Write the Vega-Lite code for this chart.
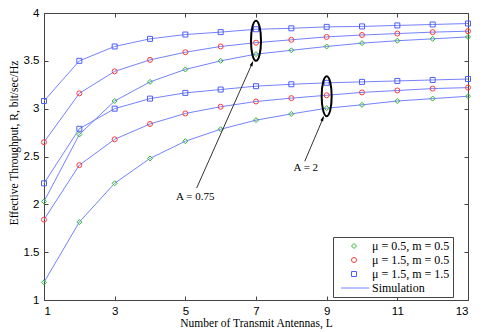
{
  "$schema": "https://vega.github.io/schema/vega-lite/v6.json",
  "autosize": "none",
  "width": 424,
  "height": 287,
  "padding": {"left": 44, "top": 13, "right": 17, "bottom": 32},
  "background": "white",
  "config": {
    "view": {"stroke": "#444", "strokeWidth": 1},
    "axis": {
      "grid": false,
      "domain": false,
      "tickColor": "#444",
      "tickSize": -4,
      "labelFont": "Liberation Sans",
      "labelFontSize": 11.5,
      "labelColor": "#000",
      "labelPadding": 9,
      "titleFont": "Liberation Serif",
      "titleFontSize": 11.5,
      "titleFontWeight": "normal",
      "titleColor": "#000"
    }
  },
  "datasets": {
    "curves": [
      {"L": 1, "R": 3.08, "s": "μ = 1.5, m = 1.5", "A": "0.75"},
      {"L": 2, "R": 3.50, "s": "μ = 1.5, m = 1.5", "A": "0.75"},
      {"L": 3, "R": 3.65, "s": "μ = 1.5, m = 1.5", "A": "0.75"},
      {"L": 4, "R": 3.73, "s": "μ = 1.5, m = 1.5", "A": "0.75"},
      {"L": 5, "R": 3.775, "s": "μ = 1.5, m = 1.5", "A": "0.75"},
      {"L": 6, "R": 3.80, "s": "μ = 1.5, m = 1.5", "A": "0.75"},
      {"L": 7, "R": 3.83, "s": "μ = 1.5, m = 1.5", "A": "0.75"},
      {"L": 8, "R": 3.84, "s": "μ = 1.5, m = 1.5", "A": "0.75"},
      {"L": 9, "R": 3.855, "s": "μ = 1.5, m = 1.5", "A": "0.75"},
      {"L": 10, "R": 3.86, "s": "μ = 1.5, m = 1.5", "A": "0.75"},
      {"L": 11, "R": 3.87, "s": "μ = 1.5, m = 1.5", "A": "0.75"},
      {"L": 12, "R": 3.88, "s": "μ = 1.5, m = 1.5", "A": "0.75"},
      {"L": 13, "R": 3.89, "s": "μ = 1.5, m = 1.5", "A": "0.75"},
      {"L": 1, "R": 2.65, "s": "μ = 1.5, m = 0.5", "A": "0.75"},
      {"L": 2, "R": 3.16, "s": "μ = 1.5, m = 0.5", "A": "0.75"},
      {"L": 3, "R": 3.39, "s": "μ = 1.5, m = 0.5", "A": "0.75"},
      {"L": 4, "R": 3.51, "s": "μ = 1.5, m = 0.5", "A": "0.75"},
      {"L": 5, "R": 3.59, "s": "μ = 1.5, m = 0.5", "A": "0.75"},
      {"L": 6, "R": 3.65, "s": "μ = 1.5, m = 0.5", "A": "0.75"},
      {"L": 7, "R": 3.69, "s": "μ = 1.5, m = 0.5", "A": "0.75"},
      {"L": 8, "R": 3.72, "s": "μ = 1.5, m = 0.5", "A": "0.75"},
      {"L": 9, "R": 3.75, "s": "μ = 1.5, m = 0.5", "A": "0.75"},
      {"L": 10, "R": 3.77, "s": "μ = 1.5, m = 0.5", "A": "0.75"},
      {"L": 11, "R": 3.785, "s": "μ = 1.5, m = 0.5", "A": "0.75"},
      {"L": 12, "R": 3.80, "s": "μ = 1.5, m = 0.5", "A": "0.75"},
      {"L": 13, "R": 3.81, "s": "μ = 1.5, m = 0.5", "A": "0.75"},
      {"L": 1, "R": 2.03, "s": "μ = 0.5, m = 0.5", "A": "0.75"},
      {"L": 2, "R": 2.73, "s": "μ = 0.5, m = 0.5", "A": "0.75"},
      {"L": 3, "R": 3.08, "s": "μ = 0.5, m = 0.5", "A": "0.75"},
      {"L": 4, "R": 3.28, "s": "μ = 0.5, m = 0.5", "A": "0.75"},
      {"L": 5, "R": 3.41, "s": "μ = 0.5, m = 0.5", "A": "0.75"},
      {"L": 6, "R": 3.50, "s": "μ = 0.5, m = 0.5", "A": "0.75"},
      {"L": 7, "R": 3.57, "s": "μ = 0.5, m = 0.5", "A": "0.75"},
      {"L": 8, "R": 3.61, "s": "μ = 0.5, m = 0.5", "A": "0.75"},
      {"L": 9, "R": 3.65, "s": "μ = 0.5, m = 0.5", "A": "0.75"},
      {"L": 10, "R": 3.685, "s": "μ = 0.5, m = 0.5", "A": "0.75"},
      {"L": 11, "R": 3.71, "s": "μ = 0.5, m = 0.5", "A": "0.75"},
      {"L": 12, "R": 3.73, "s": "μ = 0.5, m = 0.5", "A": "0.75"},
      {"L": 13, "R": 3.75, "s": "μ = 0.5, m = 0.5", "A": "0.75"},
      {"L": 1, "R": 2.22, "s": "μ = 1.5, m = 1.5", "A": "2"},
      {"L": 2, "R": 2.79, "s": "μ = 1.5, m = 1.5", "A": "2"},
      {"L": 3, "R": 3.00, "s": "μ = 1.5, m = 1.5", "A": "2"},
      {"L": 4, "R": 3.105, "s": "μ = 1.5, m = 1.5", "A": "2"},
      {"L": 5, "R": 3.165, "s": "μ = 1.5, m = 1.5", "A": "2"},
      {"L": 6, "R": 3.20, "s": "μ = 1.5, m = 1.5", "A": "2"},
      {"L": 7, "R": 3.235, "s": "μ = 1.5, m = 1.5", "A": "2"},
      {"L": 8, "R": 3.255, "s": "μ = 1.5, m = 1.5", "A": "2"},
      {"L": 9, "R": 3.27, "s": "μ = 1.5, m = 1.5", "A": "2"},
      {"L": 10, "R": 3.28, "s": "μ = 1.5, m = 1.5", "A": "2"},
      {"L": 11, "R": 3.29, "s": "μ = 1.5, m = 1.5", "A": "2"},
      {"L": 12, "R": 3.30, "s": "μ = 1.5, m = 1.5", "A": "2"},
      {"L": 13, "R": 3.31, "s": "μ = 1.5, m = 1.5", "A": "2"},
      {"L": 1, "R": 1.84, "s": "μ = 1.5, m = 0.5", "A": "2"},
      {"L": 2, "R": 2.41, "s": "μ = 1.5, m = 0.5", "A": "2"},
      {"L": 3, "R": 2.68, "s": "μ = 1.5, m = 0.5", "A": "2"},
      {"L": 4, "R": 2.84, "s": "μ = 1.5, m = 0.5", "A": "2"},
      {"L": 5, "R": 2.95, "s": "μ = 1.5, m = 0.5", "A": "2"},
      {"L": 6, "R": 3.02, "s": "μ = 1.5, m = 0.5", "A": "2"},
      {"L": 7, "R": 3.075, "s": "μ = 1.5, m = 0.5", "A": "2"},
      {"L": 8, "R": 3.11, "s": "μ = 1.5, m = 0.5", "A": "2"},
      {"L": 9, "R": 3.14, "s": "μ = 1.5, m = 0.5", "A": "2"},
      {"L": 10, "R": 3.17, "s": "μ = 1.5, m = 0.5", "A": "2"},
      {"L": 11, "R": 3.19, "s": "μ = 1.5, m = 0.5", "A": "2"},
      {"L": 12, "R": 3.21, "s": "μ = 1.5, m = 0.5", "A": "2"},
      {"L": 13, "R": 3.22, "s": "μ = 1.5, m = 0.5", "A": "2"},
      {"L": 1, "R": 1.185, "s": "μ = 0.5, m = 0.5", "A": "2"},
      {"L": 2, "R": 1.815, "s": "μ = 0.5, m = 0.5", "A": "2"},
      {"L": 3, "R": 2.22, "s": "μ = 0.5, m = 0.5", "A": "2"},
      {"L": 4, "R": 2.48, "s": "μ = 0.5, m = 0.5", "A": "2"},
      {"L": 5, "R": 2.66, "s": "μ = 0.5, m = 0.5", "A": "2"},
      {"L": 6, "R": 2.785, "s": "μ = 0.5, m = 0.5", "A": "2"},
      {"L": 7, "R": 2.88, "s": "μ = 0.5, m = 0.5", "A": "2"},
      {"L": 8, "R": 2.945, "s": "μ = 0.5, m = 0.5", "A": "2"},
      {"L": 9, "R": 3.005, "s": "μ = 0.5, m = 0.5", "A": "2"},
      {"L": 10, "R": 3.04, "s": "μ = 0.5, m = 0.5", "A": "2"},
      {"L": 11, "R": 3.08, "s": "μ = 0.5, m = 0.5", "A": "2"},
      {"L": 12, "R": 3.105, "s": "μ = 0.5, m = 0.5", "A": "2"},
      {"L": 13, "R": 3.13, "s": "μ = 0.5, m = 0.5", "A": "2"}
    ],
    "ellipses": [
      {"L": 7, "R": 3.71},
      {"L": 9, "R": 3.13}
    ],
    "arrows": [
      {"L": 5.32, "R": 2.17, "L2": 6.9, "R2": 3.48},
      {"L": 8.38, "R": 2.45, "L2": 8.91, "R2": 2.91}
    ],
    "heads": [
      {"L": 6.92, "R": 3.5},
      {"L": 8.92, "R": 2.925}
    ],
    "labels": [
      {"L": 5.28, "R": 2.08, "t": "A = 0.75"},
      {"L": 8.41, "R": 2.38, "t": "A = 2"}
    ]
  },
  "resolve": {"axis": {"x": "independent", "y": "independent"}},
  "layer": [
    {
      "data": {"name": "curves"},
      "mark": {"type": "line", "color": "#7482ff", "strokeWidth": 1},
      "encoding": {
        "x": {"field": "L", "type": "quantitative",
              "scale": {"domain": [1, 13], "nice": false, "zero": false},
              "axis": {"values": [1, 3, 5, 7, 9, 11, 13], "title": "Number of Transmit Antennas, L",
                       "titleX": 212, "titleY": 26, "titleBaseline": "alphabetic"}},
        "y": {"field": "R", "type": "quantitative",
              "scale": {"domain": [1, 4], "nice": false, "zero": false},
              "axis": {"values": [1, 1.5, 2, 2.5, 3, 3.5, 4], "format": "~g", "title": "Effective Throughput, R, bit/sec/Hz",
                       "titleX": -27, "titleY": 129.5, "titleBaseline": "alphabetic"}},
        "detail": [{"field": "s"}, {"field": "A"}]
      }
    },
    {
      "data": {"name": "curves"},
      "mark": {"type": "point", "filled": false, "size": 25, "strokeWidth": 1, "opacity": 1},
      "encoding": {
        "x": {"field": "L", "type": "quantitative",
              "axis": {"orient": "top", "values": [1, 3, 5, 7, 9, 11, 13], "labels": false, "title": null}},
        "y": {"field": "R", "type": "quantitative",
              "axis": {"orient": "right", "values": [1, 1.5, 2, 2.5, 3, 3.5, 4], "labels": false, "title": null}},
        "color": {"field": "s", "type": "nominal",
                  "scale": {"domain": ["μ = 0.5, m = 0.5", "μ = 1.5, m = 0.5", "μ = 1.5, m = 1.5", "Simulation"],
                            "range": ["#2fb52f", "#ff3b3b", "#4d5eff", "#7482ff"]},
                  "legend": {"title": null, "orient": "none", "legendX": 289, "legendY": 224,
                             "strokeColor": "#444", "fillColor": "white", "padding": 3,
                             "symbolSize": 25, "symbolStrokeWidth": 1, "symbolOffset": 12,
                             "labelOffset": 12, "rowPadding": 2,
                             "labelFont": "Liberation Serif", "labelFontSize": 12, "labelColor": "#000"}},
        "shape": {"field": "s", "type": "nominal",
                  "scale": {"domain": ["μ = 0.5, m = 0.5", "μ = 1.5, m = 0.5", "μ = 1.5, m = 1.5", "Simulation"],
                            "range": ["diamond", "circle", "square", "M-5.2,0H6.1"]}}
      }
    },
    {
      "data": {"name": "ellipses"},
      "mark": {"type": "point", "shape": "M0,-1A0.25,1 0 1,1 0,1A0.25,1 0 1,1 0,-1Z", "size": 1600,
               "filled": false, "stroke": "#000", "strokeWidth": 2, "opacity": 1},
      "encoding": {
        "x": {"field": "L", "type": "quantitative", "axis": null},
        "y": {"field": "R", "type": "quantitative", "axis": null}
      }
    },
    {
      "data": {"name": "arrows"},
      "mark": {"type": "rule", "color": "#333", "strokeWidth": 1},
      "encoding": {
        "x": {"field": "L", "type": "quantitative", "axis": null},
        "y": {"field": "R", "type": "quantitative", "axis": null},
        "x2": {"field": "L2"},
        "y2": {"field": "R2"}
      }
    },
    {
      "data": {"name": "heads"},
      "mark": {"type": "point", "shape": "M0,0L-0.5,1.8L0.5,1.8Z", "size": 36, "angle": 23,
               "filled": true, "color": "#000", "opacity": 1},
      "encoding": {
        "x": {"field": "L", "type": "quantitative", "axis": null},
        "y": {"field": "R", "type": "quantitative", "axis": null}
      }
    },
    {
      "data": {"name": "labels"},
      "mark": {"type": "text", "font": "Liberation Serif", "fontSize": 11, "color": "#000", "align": "center", "baseline": "middle"},
      "encoding": {
        "x": {"field": "L", "type": "quantitative", "axis": null},
        "y": {"field": "R", "type": "quantitative", "axis": null},
        "text": {"field": "t"}
      }
    }
  ]
}
